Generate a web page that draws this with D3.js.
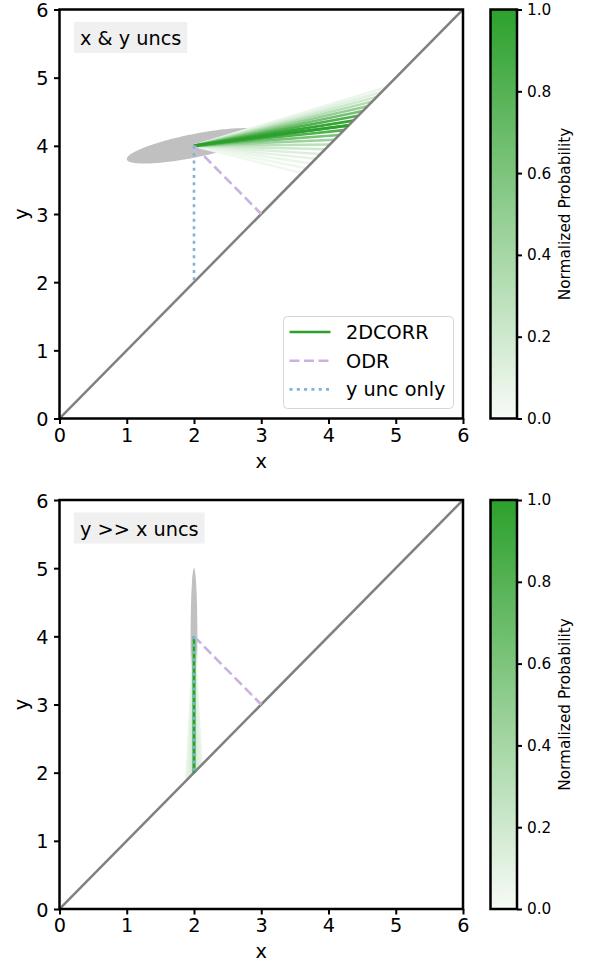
<!DOCTYPE html>
<html>
<head>
<meta charset="utf-8">
<script src="https://cdn.jsdelivr.net/npm/d3@7"></script>
<style>
  html, body { margin: 0; padding: 0; background: #fff; }
  svg { display: block; font-family: "DejaVu Sans", sans-serif; }
</style>
</head>
<body>
<svg id="chart" width="592" height="964"></svg>
<script>
// Axis ticks
const xTicks = [0, 1, 2, 3, 4, 5, 6];
const yTicks = [0, 1, 2, 3, 4, 5, 6];
const cbTicks = [0.0, 0.2, 0.4, 0.6, 0.8, 1.0];

// Measured point and the three projections onto the y = x line
const dataPoint = [2, 4];
const odrEnd = [3, 3];
const yUncEnd = [2, 2];

// Panel 1: x & y uncertainties
const fanEndsTop = [3.60, 3.67, 3.74, 3.81, 3.88, 3.95, 4.02, 4.09, 4.16, 4.23, 4.30, 4.37, 4.44, 4.51, 4.58, 4.65, 4.72, 4.79, 4.86];
const fanProbTop = [0.03, 0.04, 0.06, 0.09, 0.13, 0.20, 0.30, 0.45, 0.62, 0.82, 1.00, 0.95, 0.82, 0.65, 0.48, 0.32, 0.20, 0.11, 0.05];
const corrEndTop = [4.30, 4.30];
const ellipseTop = { cx: 2, cy: 4, sx: 1.0, sy: 0.26, rho: 0.74 };

// Panel 2: y uncertainty much larger than x
const fanEndsBottom = [1.89, 1.92, 1.95, 1.98, 2.00, 2.02, 2.05, 2.08, 2.11];
const fanProbBottom = [0.07, 0.10, 0.14, 0.22, 1.00, 0.22, 0.14, 0.10, 0.07];
const corrEndBottom = [2, 2];
const ellipseBottom = { cx: 2, cy: 4, sx: 0.05, sy: 1.0, rho: 0.0 };

const panelLabels = ["x & y uncs", "y >> x uncs"];
const legendLabels = ["2DCORR", "ODR", "y unc only"];
const cbLabel = "Normalized Probability";

// Styling
const GREEN = "#2ca02c";
const PURPLE = "#c9b3de";
const BLUE = "#7fb2d8";
const ELLIPSE = "#c0c0c0";
const FONT = 19.3;
const CB_FONT = 15.3;
const cmap = d3.interpolateRgb("#f7fbf6", GREEN);

const svg = d3.select("#chart");

const W = 403.5, H = 409, LEFT = 59.5;
const panels = [
  { top: 9.5, fanEnds: fanEndsTop, fanProb: fanProbTop, corrEnd: corrEndTop, ell: ellipseTop, label: panelLabels[0], legend: true },
  { top: 500, fanEnds: fanEndsBottom, fanProb: fanProbBottom, corrEnd: corrEndBottom, ell: ellipseBottom, label: panelLabels[1], legend: false }
];

// Colorbar gradient
const defs = svg.append("defs");
const grad = defs.append("linearGradient").attr("id", "cbgrad")
  .attr("x1", 0).attr("y1", 1).attr("x2", 0).attr("y2", 0);
d3.range(0, 1.0001, 0.05).forEach(t => {
  grad.append("stop").attr("offset", t).attr("stop-color", cmap(t));
});

function ellipsePoints(e) {
  // Boundary of the 1-sigma covariance ellipse
  const a = e.sx, b = e.rho * e.sy, c = e.sy * Math.sqrt(1 - e.rho * e.rho);
  return d3.range(0, 361, 2).map(deg => {
    const th = deg * Math.PI / 180;
    return [e.cx + a * Math.cos(th), e.cy + b * Math.cos(th) + c * Math.sin(th)];
  });
}

panels.forEach((p, i) => {
  const x = d3.scaleLinear().domain([0, 6]).range([LEFT, LEFT + W]);
  const y = d3.scaleLinear().domain([0, 6]).range([p.top + H, p.top]);
  const g = svg.append("g");

  defs.append("clipPath").attr("id", "clip" + i)
    .append("rect").attr("x", LEFT).attr("y", p.top).attr("width", W).attr("height", H);
  const plot = g.append("g").attr("clip-path", `url(#clip${i})`);

  // Uncertainty ellipse
  plot.append("path")
    .attr("d", d3.line().x(d => x(d[0])).y(d => y(d[1]))(ellipsePoints(p.ell)) + "Z")
    .attr("fill", ELLIPSE).attr("stroke", "none");

  // Fan of candidate projections, faintest first
  const fan = p.fanEnds.map((t, k) => ({ t, prob: p.fanProb[k] }))
    .sort((a, b) => a.prob - b.prob);
  plot.selectAll(".fan").data(fan).enter().append("line")
    .attr("x1", x(dataPoint[0])).attr("y1", y(dataPoint[1]))
    .attr("x2", d => x(d.t)).attr("y2", d => y(d.t))
    .attr("stroke", d => cmap(d.prob)).attr("stroke-width", 2.6);

  // y = x line
  plot.append("line")
    .attr("x1", x(0)).attr("y1", y(0)).attr("x2", x(6)).attr("y2", y(6))
    .attr("stroke", "#808080").attr("stroke-width", 2.5);

  // 2DCORR projection
  plot.append("line")
    .attr("x1", x(dataPoint[0])).attr("y1", y(dataPoint[1]))
    .attr("x2", x(p.corrEnd[0])).attr("y2", y(p.corrEnd[1]))
    .attr("stroke", GREEN).attr("stroke-width", 2.6);

  // ODR projection
  plot.append("line")
    .attr("x1", x(dataPoint[0])).attr("y1", y(dataPoint[1]))
    .attr("x2", x(odrEnd[0])).attr("y2", y(odrEnd[1]))
    .attr("stroke", PURPLE).attr("stroke-width", 2.6).attr("stroke-dasharray", "10,4.5");

  // Vertical (y uncertainty only) projection
  plot.append("line")
    .attr("x1", x(dataPoint[0])).attr("y1", y(dataPoint[1]))
    .attr("x2", x(yUncEnd[0])).attr("y2", y(yUncEnd[1]))
    .attr("stroke", BLUE).attr("stroke-width", 2.6).attr("stroke-dasharray", "3,4.3");

  // Axes
  const xAxis = g.append("g").attr("transform", `translate(0,${p.top + H})`)
    .call(d3.axisBottom(x).tickValues(xTicks).tickFormat(d3.format("d")).tickSize(5.5).tickPadding(4));
  const yAxis = g.append("g").attr("transform", `translate(${LEFT},0)`)
    .call(d3.axisLeft(y).tickValues(yTicks).tickFormat(d3.format("d")).tickSize(5.5).tickPadding(5.5));
  [xAxis, yAxis].forEach(a => {
    a.select(".domain").remove();
    a.selectAll(".tick line").attr("stroke", "#000").attr("stroke-width", 2);
    a.selectAll(".tick text").attr("font-size", FONT).attr("fill", "#000")
      .attr("font-family", "DejaVu Sans");
  });
  yAxis.selectAll(".tick text").attr("dy", "0.37em");

  // Frame
  g.append("rect").attr("x", LEFT).attr("y", p.top).attr("width", W).attr("height", H)
    .attr("fill", "none").attr("stroke", "#000").attr("stroke-width", 2.5);

  // Axis labels
  g.append("text").attr("x", x(3)).attr("y", p.top + H + 49)
    .attr("text-anchor", "middle").attr("font-size", FONT).text("x");
  g.append("text").attr("transform", `translate(28,${y(3)}) rotate(-90)`)
    .attr("text-anchor", "middle").attr("font-size", FONT).text("y");

  // Panel label in a shaded box
  const lbl = g.append("g");
  const lt = lbl.append("text").attr("x", LEFT + 20.5).attr("y", p.top + 35.5)
    .attr("font-size", FONT).text(p.label);
  const bb = lt.node().getBBox();
  lbl.insert("rect", "text")
    .attr("x", LEFT + 14.5).attr("y", p.top + 12.5)
    .attr("width", bb.width + 12).attr("height", 31)
    .attr("fill", "#f0f0f0");

  // Legend
  if (p.legend) {
    const lg = g.append("g");
    lg.append("rect").attr("x", 283.5).attr("y", 316.5).attr("width", 170).attr("height", 92)
      .attr("rx", 4).attr("fill", "#fff").attr("fill-opacity", 0.8)
      .attr("stroke", "#d6d6d6").attr("stroke-width", 1);
    const styles = [
      { c: GREEN, dash: null },
      { c: PURPLE, dash: "10,4.5" },
      { c: BLUE, dash: "3,4.3" }
    ];
    legendLabels.forEach((name, k) => {
      const yy = 332 + k * 28.7;
      lg.append("line").attr("x1", 289.5).attr("x2", 330.5).attr("y1", yy).attr("y2", yy)
        .attr("stroke", styles[k].c).attr("stroke-width", 2.6)
        .attr("stroke-dasharray", styles[k].dash);
      lg.append("text").attr("x", 346).attr("y", yy + 7)
        .attr("font-size", FONT).text(name);
    });
  }

  // Colorbar
  const cbX = 490.5, cbW = 26.5;
  const cy = d3.scaleLinear().domain([0, 1]).range([p.top + H, p.top]);
  g.append("rect").attr("x", cbX).attr("y", p.top).attr("width", cbW).attr("height", H)
    .attr("fill", "url(#cbgrad)");
  const cbAxis = g.append("g").attr("transform", `translate(${cbX + cbW},0)`)
    .call(d3.axisRight(cy).tickValues(cbTicks).tickFormat(d3.format(".1f")).tickSize(5).tickPadding(5));
  cbAxis.select(".domain").remove();
  cbAxis.selectAll(".tick line").attr("stroke", "#000").attr("stroke-width", 2);
  cbAxis.selectAll(".tick text").attr("font-size", CB_FONT).attr("fill", "#000")
    .attr("font-family", "DejaVu Sans");
  g.append("rect").attr("x", cbX).attr("y", p.top).attr("width", cbW).attr("height", H)
    .attr("fill", "none").attr("stroke", "#000").attr("stroke-width", 2.5);
  g.append("text").attr("transform", `translate(570,${p.top + H / 2}) rotate(-90)`)
    .attr("text-anchor", "middle").attr("font-size", CB_FONT).text(cbLabel);
});
</script>
</body>
</html>
